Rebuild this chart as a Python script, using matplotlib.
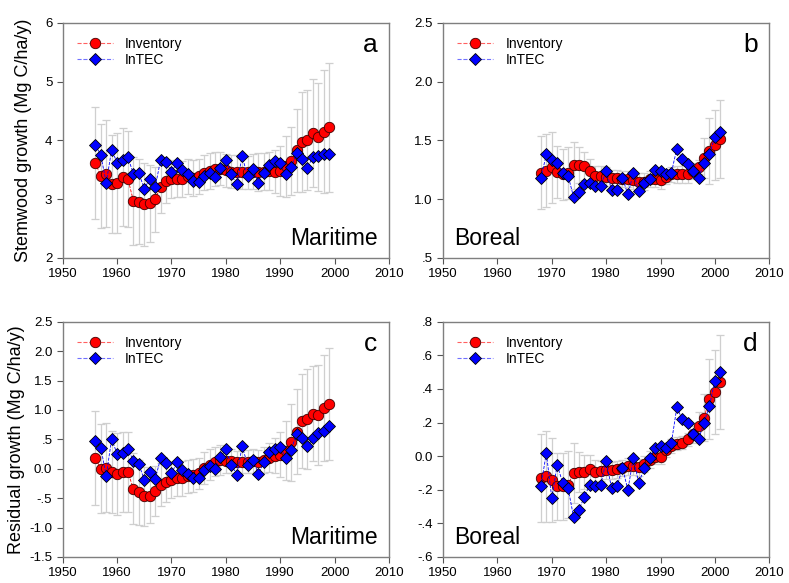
import numpy as np
import matplotlib
matplotlib.use("Agg")
import matplotlib.pyplot as plt
from matplotlib.lines import Line2D

plt.rcParams['font.family'] = ['Liberation Sans', 'DejaVu Sans']

# ---- data ----
years_mar = list(range(1956, 2000))
years_bor = list(range(1968, 2002))

# a: Maritime stemwood growth
inv_a = [3.62, 3.39, 3.43, 3.26, 3.28, 3.38, 3.34, 2.97, 2.96, 2.91, 2.93, 3.00, 3.21, 3.31,
         3.34, 3.35, 3.34, 3.39, 3.36, 3.39, 3.45, 3.48, 3.51, 3.52, 3.49, 3.47, 3.47, 3.46,
         3.46, 3.47, 3.46, 3.47, 3.48, 3.47, 3.48, 3.56, 3.65, 3.83, 3.97, 4.00, 4.12, 4.06,
         4.15, 4.22]
intec_a = [3.92, 3.75, 3.28, 3.84, 3.62, 3.67, 3.71, 3.43, 3.44, 3.18, 3.34, 3.20, 3.67, 3.63,
           3.46, 3.62, 3.49, 3.42, 3.31, 3.30, 3.40, 3.44, 3.38, 3.53, 3.67, 3.42, 3.25, 3.73,
           3.39, 3.51, 3.27, 3.45, 3.58, 3.65, 3.61, 3.42, 3.54, 3.78, 3.69, 3.53, 3.72, 3.74,
           3.76, 3.77]
err_a = [0.95, 0.88, 0.91, 0.83, 0.85, 0.83, 0.82, 0.75, 0.72, 0.70, 0.65, 0.55, 0.45, 0.38,
         0.32, 0.32, 0.31, 0.30, 0.30, 0.30, 0.30, 0.30, 0.29, 0.28, 0.28, 0.28, 0.28, 0.28,
         0.28, 0.30, 0.32, 0.32, 0.33, 0.36, 0.42, 0.52, 0.58, 0.70, 0.85, 0.85, 0.92, 0.92,
         1.05, 1.10]

# b: Boreal stemwood growth
inv_b = [1.225, 1.24, 1.27, 1.23, 1.21, 1.225, 1.29, 1.29, 1.28, 1.24, 1.20, 1.20, 1.19, 1.18,
         1.18, 1.17, 1.17, 1.16, 1.15, 1.15, 1.17, 1.17, 1.16, 1.19, 1.21, 1.21, 1.21, 1.21,
         1.24, 1.27, 1.35, 1.41, 1.46, 1.51]
intec_b = [1.18, 1.38, 1.33, 1.31, 1.225, 1.20, 1.02, 1.06, 1.13, 1.14, 1.11, 1.11, 1.24, 1.08,
           1.08, 1.18, 1.04, 1.22, 1.07, 1.14, 1.17, 1.25, 1.24, 1.21, 1.225, 1.43, 1.34, 1.30,
           1.24, 1.18, 1.31, 1.38, 1.53, 1.57]
err_b = [0.31, 0.31, 0.30, 0.22, 0.22, 0.22, 0.20, 0.15, 0.12, 0.10, 0.08, 0.08, 0.08, 0.07,
         0.07, 0.07, 0.07, 0.07, 0.07, 0.07, 0.07, 0.07, 0.07, 0.06, 0.06, 0.07, 0.07, 0.07,
         0.07, 0.06, 0.17, 0.28, 0.30, 0.33]

# c: Maritime residual growth
inv_c = [0.18, 0.00, 0.02, -0.06, -0.09, -0.05, -0.06, -0.34, -0.40, -0.47, -0.46, -0.38, -0.27,
         -0.23, -0.19, -0.16, -0.16, -0.13, -0.11, -0.08, 0.01, 0.07, 0.12, 0.15, 0.14, 0.13,
         0.11, 0.12, 0.12, 0.13, 0.12, 0.15, 0.19, 0.22, 0.24, 0.31, 0.45, 0.63, 0.81, 0.85,
         0.94, 0.92, 1.04, 1.10]
intec_c = [0.48, 0.36, -0.12, 0.51, 0.25, 0.26, 0.33, 0.14, 0.08, -0.19, -0.05, -0.18, 0.18,
           0.09, -0.08, 0.11, -0.02, -0.09, -0.16, -0.15, -0.02, 0.04, 0.00, 0.20, 0.33, 0.07,
           -0.10, 0.38, 0.07, 0.15, -0.09, 0.11, 0.29, 0.34, 0.37, 0.19, 0.32, 0.59, 0.52, 0.38,
           0.52, 0.60, 0.65, 0.72]
err_c = [0.80, 0.76, 0.76, 0.70, 0.70, 0.68, 0.68, 0.60, 0.55, 0.50, 0.46, 0.42, 0.36, 0.33,
         0.30, 0.30, 0.30, 0.28, 0.28, 0.27, 0.27, 0.26, 0.25, 0.25, 0.22, 0.21, 0.20, 0.20,
         0.20, 0.20, 0.20, 0.22, 0.25, 0.30, 0.38, 0.50, 0.65, 0.72, 0.80, 0.85, 0.80, 0.85,
         0.90, 0.95]

# d: Boreal residual growth
inv_d = [-0.13, -0.12, -0.14, -0.18, -0.18, -0.17, -0.10, -0.095, -0.095, -0.075, -0.095, -0.09,
         -0.085, -0.085, -0.077, -0.07, -0.06, -0.06, -0.067, -0.047, -0.02, -0.007, -0.005,
         0.035, 0.06, 0.075, 0.08, 0.10, 0.13, 0.18, 0.23, 0.34, 0.38, 0.44]
intec_d = [-0.18, 0.02, -0.25, -0.05, -0.16, -0.19, -0.36, -0.32, -0.24, -0.17, -0.18, -0.17,
           -0.03, -0.19, -0.18, -0.07, -0.20, -0.01, -0.16, -0.07, -0.01, 0.05, 0.06, 0.05,
           0.08, 0.29, 0.22, 0.20, 0.13, 0.10, 0.20, 0.30, 0.45, 0.50]
err_d = [0.26, 0.27, 0.25, 0.20, 0.20, 0.20, 0.18, 0.12, 0.10, 0.08, 0.07, 0.06, 0.05, 0.05,
         0.05, 0.05, 0.05, 0.05, 0.05, 0.05, 0.05, 0.04, 0.04, 0.04, 0.04, 0.04, 0.04, 0.04,
         0.05, 0.08, 0.14, 0.24, 0.25, 0.28]

ticks_a = [2, 3, 4, 5, 6]
ticklab_a = ['2', '3', '4', '5', '6']
ticks_b = [0.5, 1.0, 1.5, 2.0, 2.5]
ticklab_b = ['.5', '1.0', '1.5', '2.0', '2.5']
ticks_c = [-1.5, -1.0, -0.5, 0.0, 0.5, 1.0, 1.5, 2.0, 2.5]
ticklab_c = ['-1.5', '-1.0', '-.5', '0.0', '.5', '1.0', '1.5', '2.0', '2.5']
ticks_d = [-0.6, -0.4, -0.2, 0.0, 0.2, 0.4, 0.6, 0.8]
ticklab_d = ['-.6', '-.4', '-.2', '0.0', '.2', '.4', '.6', '.8']
xticks = [1950, 1960, 1970, 1980, 1990, 2000, 2010]

fig = plt.figure(figsize=(7.89, 5.83), dpi=100)
W, H = 0.4135, 0.4035
ax_a = fig.add_axes([0.0795, 0.5575, W, H])
ax_b = fig.add_axes([0.5615, 0.5575, W, H])
ax_c = fig.add_axes([0.0795, 0.0446, W, H])
ax_d = fig.add_axes([0.5615, 0.0446, W, H])

panels = [
    (ax_a, years_mar, inv_a, intec_a, err_a, ticks_a, ticklab_a, 'a', 'Maritime'),
    (ax_b, years_bor, inv_b, intec_b, err_b, ticks_b, ticklab_b, 'b', 'Boreal'),
    (ax_c, years_mar, inv_c, intec_c, err_c, ticks_c, ticklab_c, 'c', 'Maritime'),
    (ax_d, years_bor, inv_d, intec_d, err_d, ticks_d, ticklab_d, 'd', 'Boreal'),
]

for ax, yrs, inv, intec, err, yt, ytl, letter, region in panels:
    ax.errorbar(yrs, inv, yerr=err, fmt='none', ecolor='#cfcfcf', elinewidth=0.9,
                capsize=3, capthick=0.9, zorder=1)
    ax.plot(yrs, inv, color='red', ls='--', lw=0.6, marker='o', ms=7.5,
            mfc='red', mec='#400000', mew=0.6, zorder=2)
    ax.plot(yrs, intec, color='blue', ls='--', lw=0.6, marker='D', ms=6.5,
            mfc='#0000ff', mec='black', mew=0.6, zorder=3)
    ax.set_xlim(1950, 2010)
    ax.set_ylim(yt[0], yt[-1])
    ax.set_xticks(xticks)
    ax.set_yticks(yt)
    ax.set_yticklabels(ytl)
    ax.tick_params(direction='out', length=4, width=0.8, color='#555555', labelsize=9.5)
    for s in ax.spines.values():
        s.set_color('#7f7f7f')
        s.set_linewidth(1.0)
    ax.text(0.965, 0.955, letter, transform=ax.transAxes, ha='right', va='top',
            fontsize=19)
    if region == 'Maritime':
        ax.text(0.967, 0.055, region, transform=ax.transAxes, ha='right',
                va='baseline', fontsize=16.5)
    else:
        ax.text(0.035, 0.055, region, transform=ax.transAxes, ha='left',
                va='baseline', fontsize=16.5)
    handles = [
        Line2D([], [], color='#ff6060', ls='--', lw=0.8, marker='o', ms=7.5,
               mfc='red', mec='#400000', mew=0.6),
        Line2D([], [], color='#7070ff', ls='--', lw=0.8, marker='D', ms=6.5,
               mfc='#0000ff', mec='black', mew=0.6),
    ]
    ax.legend(handles, ['Inventory', 'InTEC'], loc='upper left', frameon=False,
              fontsize=10, handlelength=2.6, handletextpad=0.9, labelspacing=0.15,
              borderaxespad=0.6)

ax_a.set_ylabel('Stemwood growth (Mg C/ha/y)', fontsize=13, labelpad=9)
ax_c.set_ylabel('Residual growth (Mg C/ha/y)', fontsize=13, labelpad=3)

fig.savefig('out.png', dpi=100)
